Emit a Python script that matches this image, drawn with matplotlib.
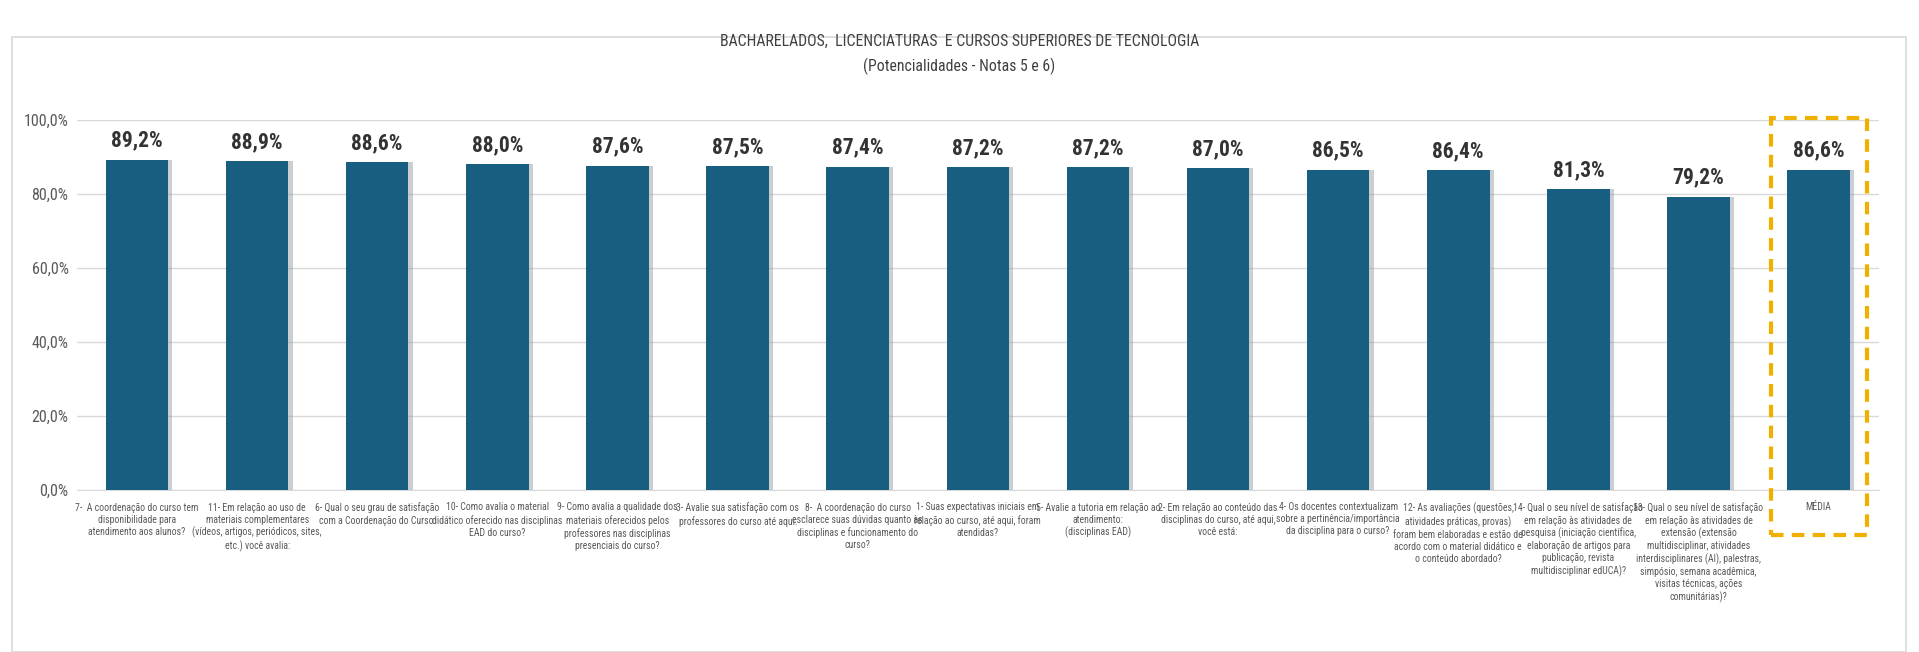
import matplotlib.pyplot as plt
from matplotlib import font_manager
from matplotlib.patches import Rectangle
from matplotlib.ticker import FuncFormatter

# procura uma fonte estreita (parecida com Calibri)
FONTE = 'Roboto'
for f in ['Liberation Sans Narrow', 'DejaVu Sans Condensed', 'Roboto Condensed', 'Open Sans Condensed']:
    try:
        font_manager.findfont(f, fallback_to_default=False)
        FONTE = f
        break
    except Exception:
        pass
plt.rcParams['font.family'] = [FONTE, 'DejaVu Sans']

categorias = [
    "7-  A coordenação do curso tem\ndisponibilidade para\natendimento aos alunos?",
    "11- Em relação ao uso de\nmateriais complementares\n(vídeos, artigos, periódicos, sites,\netc.) você avalia:",
    "6- Qual o seu grau de satisfação\ncom a Coordenação do Curso:",
    "10- Como avalia o material\ndidático oferecido nas disciplinas\nEAD do curso?",
    "9- Como avalia a qualidade dos\nmateriais oferecidos pelos\nprofessores nas disciplinas\npresenciais do curso?",
    "3- Avalie sua satisfação com os\nprofessores do curso até aqui:",
    "8-  A coordenação do curso\nesclarece suas dúvidas quanto às\ndisciplinas e funcionamento do\ncurso?",
    "1- Suas expectativas iniciais em\nrelação ao curso, até aqui, foram\natendidas?",
    "5- Avalie a tutoria em relação ao\natendimento:\n(disciplinas EAD)",
    "2- Em relação ao conteúdo das\ndisciplinas do curso, até aqui,\nvocê está:",
    "4- Os docentes contextualizam\nsobre a pertinência/importância\nda disciplina para o curso?",
    "12- As avaliações (questões,\natividades práticas, provas)\nforam bem elaboradas e estão de\nacordo com o material didático e\no conteúdo abordado?",
    "14- Qual o seu nível de satisfação\nem relação às atividades de\npesquisa (iniciação científica,\nelaboração de artigos para\npublicação, revista\nmultidisciplinar edUCA)?",
    "13- Qual o seu nível de satisfação\nem relação às atividades de\nextensão (extensão\nmultidisciplinar, atividades\ninterdisciplinares (AI), palestras,\nsimpósio, semana acadêmica,\nvisitas técnicas, ações\ncomunitárias)?",
    "MÉDIA",
]
valores = [89.2, 88.9, 88.6, 88.0, 87.6, 87.5, 87.4, 87.2, 87.2, 87.0, 86.5, 86.4, 81.3, 79.2, 86.6]

titulo = "BACHARELADOS,  LICENCIATURAS  E CURSOS SUPERIORES DE TECNOLOGIA\n(Potencialidades - Notas 5 e 6)"

cor_barra = '#175E80'
cinza = '#595959'
estreita = FONTE != 'Roboto'
tam_cat = 7 if estreita else 5.8
tam_tit = 11.3 if estreita else 10

fig = plt.figure(figsize=(19.19, 6.52), dpi=100)
ax = fig.add_axes([0.0401, 0.2485, 0.9389, 0.5675])

x = list(range(len(valores)))
# sombra leve das barras
ax.bar([i + 0.035 for i in x], valores, width=0.52, color='#8c969c', alpha=0.45, zorder=2)
barras = ax.bar(x, valores, width=0.52, color=cor_barra, zorder=3)

for b, v in zip(barras, valores):
    ax.text(b.get_x() + b.get_width() / 2, v + 2.2, f"{v:.1f}%".replace('.', ','),
            ha='center', va='bottom', fontsize=15.5, fontweight='bold', color='#333333')

ax.set_xlim(-0.5, len(valores) - 0.5)
ax.set_ylim(0, 100)
ax.set_yticks([0, 20, 40, 60, 80, 100])
ax.yaxis.set_major_formatter(FuncFormatter(lambda v, p: f"{v:.1f}%".replace('.', ',')))
ax.grid(axis='y', color='#D9D9D9', linewidth=1, zorder=0)
for s in ['top', 'right', 'left']:
    ax.spines[s].set_visible(False)
ax.spines['bottom'].set_color('#D9D9D9')
ax.tick_params(axis='y', length=0, labelsize=11.5, labelcolor=cinza, pad=6)
ax.tick_params(axis='x', length=0, pad=9)
ax.set_xticks(x)
ax.set_xticklabels(categorias, fontsize=tam_cat, color=cinza, linespacing=1.25, va='top')

# caixa tracejada na média
ax.add_patch(Rectangle((len(valores) - 1 - 0.4, -12.3), 0.8, 112.8, fill=False,
                       edgecolor='#F0B000', linewidth=3, linestyle=(0, (3, 2)),
                       clip_on=False, zorder=4))

fig.text(0.5, 0.917, titulo, ha='center', va='center', fontsize=tam_tit,
         color='#404040', linespacing=1.65)

# borda do gráfico
fig.add_artist(Rectangle((0.006, 0.0), 0.987, 0.943, transform=fig.transFigure,
                         fill=False, edgecolor='#D9D9D9', linewidth=1.2))

fig.savefig('out.png', dpi=100)
